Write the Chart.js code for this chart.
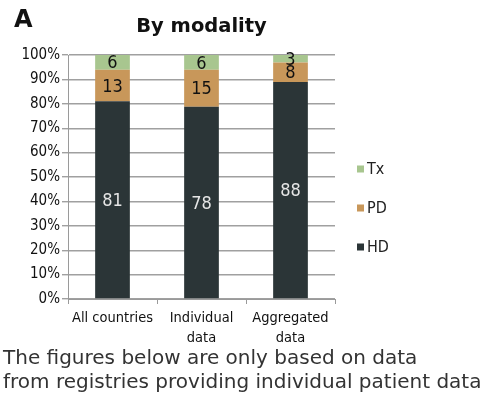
<!DOCTYPE html>
<html>
<head>
<meta charset="utf-8">
<script src="https://cdn.jsdelivr.net/npm/chart.js@4.4.1/dist/chart.umd.min.js"></script>
<style>
  html, body { margin: 0; padding: 0; background: #fff; }
  #wrap { position: relative; width: 488px; height: 404px; overflow: hidden; }
  #c { position: absolute; left: 0; top: 0; }
  #letter { position: absolute; left: 14px; top: 5px; font: bold 24px "DejaVu Sans", sans-serif; color: #111; }
  #caption { position: absolute; left: 3px; top: 345px; font: 20px "DejaVu Sans", sans-serif; color: #333; line-height: 24px; white-space: nowrap; }
</style>
</head>
<body>
<div id="wrap">
  <canvas id="c" width="488" height="404"></canvas>
  <div id="letter">A</div>
  <div id="caption">The figures below are only based on data<br>from registries providing individual patient data</div>
</div>
<script>
const categories = ['All countries', ['Individual', 'data'], ['Aggregated', 'data']];
const hdValues = [81, 78, 88];
const pdValues = [13, 15, 8];
const txValues = [6, 6, 3];
const yTickLabels = ['0%', '10%', '20%', '30%', '40%', '50%', '60%', '70%', '80%', '90%', '100%'];
const seriesNames = ['HD', 'PD', 'Tx'];
const seriesColors = ['#2b3537', '#c8975a', '#a8c68f'];
const labelColors = ['#e6e6e6', '#111', '#111'];

const raw = [hdValues, pdValues, txValues];
const totals = categories.map((_, i) => raw.reduce((s, a) => s + a[i], 0));
const pct = raw.map(a => a.map((v, i) => v / totals[i] * 100));

const FONT = '"DejaVu Sans Condensed", "DejaVu Sans", sans-serif';

const segLabels = {
  id: 'segLabels',
  afterDatasetsDraw(chart) {
    const ctx = chart.ctx;
    ctx.save();
    ctx.font = '18px ' + FONT;
    ctx.textAlign = 'center';
    ctx.textBaseline = 'middle';
    chart.data.datasets.forEach((ds, di) => {
      const meta = chart.getDatasetMeta(di);
      meta.data.forEach((bar, i) => {
        const y = (bar.y + bar.base) / 2;
        ctx.fillStyle = labelColors[di];
        ctx.fillText(String(raw[di][i]), bar.x, y + 1.5);
      });
    });
    ctx.restore();
  }
};

const customLegend = {
  id: 'customLegend',
  afterDraw(chart) {
    const ctx = chart.ctx;
    ctx.save();
    ctx.font = '16px ' + FONT;
    ctx.textBaseline = 'middle';
    const x = 357, ys = [247, 208, 169];
    chart.data.datasets.forEach((ds, di) => {
      ctx.fillStyle = ds.backgroundColor;
      ctx.fillRect(x, ys[di] - 3.5, 7, 7);
      ctx.fillStyle = '#222';
      ctx.fillText(ds.label, x + 10, ys[di] + 1);
    });
    // title centered over plot area
    const ca = chart.chartArea;
    ctx.font = 'bold 19.5px "DejaVu Sans", sans-serif';
    ctx.fillStyle = '#111';
    ctx.textAlign = 'center';
    ctx.fillText('By modality', (ca.left + ca.right) / 2, 27);
    ctx.restore();
  }
};

new Chart(document.getElementById('c'), {
  type: 'bar',
  data: {
    labels: categories,
    datasets: seriesNames.map((n, di) => ({
      label: n,
      data: pct[di],
      backgroundColor: seriesColors[di],
      borderWidth: 0,
      barPercentage: 0.78,
      categoryPercentage: 0.5
    }))
  },
  options: {
    responsive: false,
    animation: false,
    devicePixelRatio: 1,
    layout: { padding: { top: 55, right: 153, bottom: 0, left: 0 } },
    plugins: { legend: { display: false }, tooltip: { enabled: false }, title: { display: false } },
    scales: {
      x: {
        stacked: true,
        grid: { display: true, drawOnChartArea: false, drawTicks: true, tickLength: 5, color: '#9a9a9a', offset: true },
        border: { color: '#9a9a9a', width: 1 },
        ticks: { color: '#111', font: { family: FONT, size: 14.5, lineHeight: 1.4 }, padding: 4, maxRotation: 0, autoSkip: false },
        afterFit(s) { s.height = 105; }
      },
      y: {
        stacked: true,
        min: 0, max: 100,
        grid: { color: '#a0a0a0', lineWidth: 1.4, tickLength: 6, drawTicks: true },
        border: { color: '#9a9a9a', width: 1 },
        ticks: {
          stepSize: 10,
          color: '#111',
          font: { family: FONT, size: 15 },
          padding: 2,
          callback: (v) => yTickLabels[Math.round(v / 10)]
        },
        afterFit(s) { s.width = 68; }
      }
    }
  },
  plugins: [segLabels, customLegend]
});
</script>
</body>
</html>
